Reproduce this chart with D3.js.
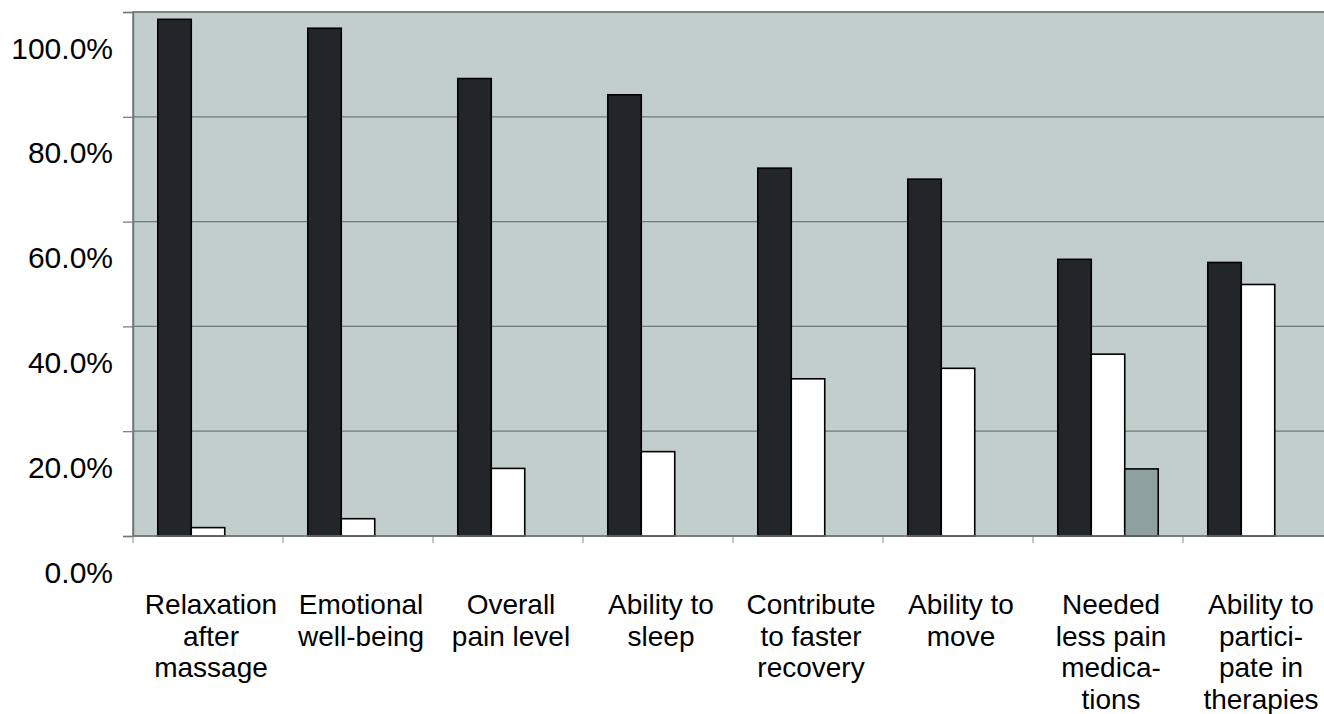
<!DOCTYPE html>
<html>
<head>
<meta charset="utf-8">
<script src="https://cdn.jsdelivr.net/npm/d3@7"></script>
<style>
  body { margin: 0; background: #fff; }
  svg { display: block; font-family: "Liberation Sans", Arial, sans-serif; }
</style>
</head>
<body>
<svg></svg>
<script>
const categories = [
  ["Relaxation", "after", "massage"],
  ["Emotional", "well-being"],
  ["Overall", "pain level"],
  ["Ability to", "sleep"],
  ["Contribute", "to faster", "recovery"],
  ["Ability to", "move"],
  ["Needed", "less pain", "medica-", "tions"],
  ["Ability to", "partici-", "pate in", "therapies"]
];
const seriesNames = ["s1", "s2", "s3"];
const darkValues  = [98.6, 96.9, 87.3, 84.2, 70.2, 68.1, 52.8, 52.2];
const whiteValues = [1.6, 3.3, 12.9, 16.1, 30.0, 32.0, 34.7, 48.0];
const grayValues  = [null, null, null, null, null, null, 12.8, null];
const yTicks = [0, 20, 40, 60, 80, 100];
const seriesColors = ["#222628", "#ffffff", "#8fa19f"];

const W = 1324, H = 714;
const marginLeft = 133, marginTop = 12, plotW = 1200, plotH = 524;

const svg = d3.select("svg").attr("width", W).attr("height", H);

const x = d3.scaleBand()
    .domain(d3.range(categories.length))
    .range([marginLeft, marginLeft + plotW])
    .padding(0);

const xs = d3.scaleBand()
    .domain(seriesNames)
    .range([0, x.bandwidth()])
    .paddingInner(0)
    .paddingOuter(0.74);

const y = d3.scaleLinear()
    .domain([0, 100])
    .range([marginTop + plotH, marginTop]);

// plot background
svg.append("rect")
    .attr("x", marginLeft).attr("y", marginTop)
    .attr("width", plotW).attr("height", plotH)
    .attr("fill", "#c2cecb")
    .attr("stroke", "#6f7977")
    .attr("stroke-width", 1.5);

// gridlines
svg.append("g")
  .selectAll("line")
  .data(yTicks.slice(1))
  .join("line")
    .attr("x1", marginLeft).attr("x2", marginLeft + plotW)
    .attr("y1", d => y(d)).attr("y2", d => y(d))
    .attr("stroke", "#6f7977")
    .attr("stroke-width", 1.2);

// bars
const data = [darkValues, whiteValues, grayValues];
const groups = svg.append("g")
  .selectAll("g")
  .data(categories.map((c, i) => i))
  .join("g")
    .attr("transform", i => `translate(${x(i)},0)`);

groups.selectAll("rect")
  .data(i => seriesNames.map((s, k) => ({s: s, k: k, v: data[k][i]})).filter(d => d.v != null))
  .join("rect")
    .attr("x", d => xs(d.s))
    .attr("y", d => y(d.v))
    .attr("width", xs.bandwidth())
    .attr("height", d => y(0) - y(d.v))
    .attr("fill", d => seriesColors[d.k])
    .attr("stroke", "#000")
    .attr("stroke-width", 1.6);

// left axis (labels sit below their gridlines, as in the original)
const yAxis = svg.append("g")
    .attr("transform", `translate(${marginLeft},0)`)
    .call(d3.axisLeft(y).tickValues(yTicks).tickSize(10).tickPadding(10)
      .tickFormat(d => d3.format(".1f")(d) + "%"));
yAxis.select(".domain").attr("stroke", "#6f7977").attr("stroke-width", 1.5);
yAxis.selectAll(".tick line").attr("stroke", "#6f7977").attr("stroke-width", 1.2);
yAxis.selectAll(".tick text")
    .attr("font-size", 30)
    .attr("fill", "#000")
    .attr("dy", 46);

// bottom axis ticks at category boundaries
svg.append("g")
  .selectAll("line")
  .data(d3.range(categories.length + 1))
  .join("line")
    .attr("x1", i => marginLeft + i * x.step()).attr("x2", i => marginLeft + i * x.step())
    .attr("y1", y(0)).attr("y2", y(0) + 7)
    .attr("stroke", "#9aa09f")
    .attr("stroke-width", 1.2);

svg.append("line")
    .attr("x1", marginLeft).attr("x2", marginLeft + plotW)
    .attr("y1", y(0)).attr("y2", y(0))
    .attr("stroke", "#6f7977")
    .attr("stroke-width", 1.5);

// category labels
const labels = svg.append("g")
  .selectAll("text")
  .data(categories)
  .join("text")
    .attr("text-anchor", "middle")
    .attr("font-size", 28)
    .attr("fill", "#000")
    .attr("x", (d, i) => x(i) + x.bandwidth() / 2 + 3)
    .attr("y", 614);

labels.selectAll("tspan")
  .data(d => d)
  .join("tspan")
    .attr("x", function() { return d3.select(this.parentNode).attr("x"); })
    .attr("dy", (d, j) => j === 0 ? 0 : 31.5)
    .text(d => d);
</script>
</body>
</html>
